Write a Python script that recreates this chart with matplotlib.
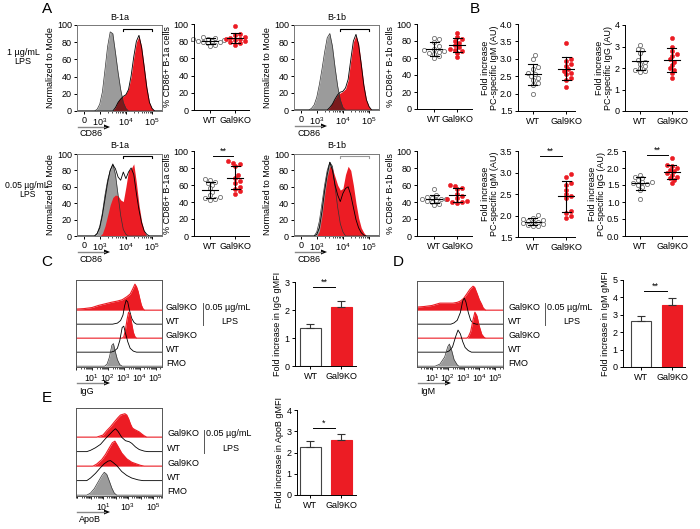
import numpy as np
import matplotlib.pyplot as plt

plt.rcParams['font.family'] = ['Liberation Sans', 'DejaVu Sans']
plt.rcParams['mathtext.fontset'] = 'custom'
plt.rcParams['mathtext.rm'] = 'Liberation Sans'
plt.rcParams['mathtext.it'] = 'Liberation Sans:italic'
plt.rcParams['font.size'] = 6.5
plt.rcParams['axes.linewidth'] = 0.7

RED = '#ec1c24'
DARK_RED = '#7a1a1c'
GREY = '#9b9b9b'

GROUPS = ['WT', 'Gal9KO']

# A: % CD86+ cells (one value per mouse)
B1A_1UG_WT = [85, 84, 83, 82, 81, 80, 80, 79, 79, 78, 76, 74]
B1A_1UG_KO = [98, 88, 87, 85, 84, 83, 82, 81, 80, 79, 78, 76]
B1B_1UG_WT = [84, 82, 79, 74, 71, 69, 68, 67, 66, 65, 62, 60]
B1B_1UG_KO = [90, 85, 82, 80, 78, 75, 73, 71, 70, 68, 66, 61]
B1A_005_WT = [67, 66, 64, 62, 60, 56, 52, 48, 46, 45, 44, 42]
B1A_005_KO = [88, 86, 85, 82, 72, 68, 65, 62, 58, 55, 53, 50]
B1B_005_WT = [55, 48, 46, 45, 44, 43, 43, 42, 41, 40, 38, 36]
B1B_005_KO = [60, 59, 57, 55, 50, 47, 45, 43, 41, 40, 40, 39]

# B: fold increase of PC-specific Ig
IGM_1UG_WT = [3.1, 3.0, 2.75, 2.7, 2.6, 2.55, 2.5, 2.45, 2.4, 2.3, 2.25, 2.0]
IGM_1UG_KO = [3.45, 3.0, 2.95, 2.85, 2.8, 2.7, 2.65, 2.6, 2.55, 2.45, 2.4, 2.2]
IGG_1UG_WT = [3.05, 2.9, 2.85, 2.7, 2.35, 2.3, 2.2, 2.1, 2.0, 1.9, 1.85, 1.8]
IGG_1UG_KO = [3.4, 3.0, 2.8, 2.65, 2.55, 2.4, 2.3, 2.15, 2.0, 1.9, 1.75, 1.55]
IGM_005_WT = [2.02, 1.95, 1.92, 1.9, 1.88, 1.86, 1.85, 1.82, 1.8, 1.78, 1.76, 1.75]
IGM_005_KO = [2.97, 2.9, 2.75, 2.7, 2.6, 2.5, 2.45, 2.4, 2.1, 2.05, 2.0, 1.95]
IGG_005_WT = [1.8, 1.75, 1.7, 1.65, 1.6, 1.58, 1.55, 1.52, 1.5, 1.45, 1.35, 1.1]
IGG_005_KO = [2.3, 2.1, 2.05, 2.0, 1.95, 1.9, 1.85, 1.8, 1.75, 1.7, 1.65, 1.55]

# C-E: fold increase in gMFI (mean, sem)
IGG_GMFI = [1.36, 2.1]
IGG_GMFI_ERR = [0.14, 0.22]
IGM_GMFI = [2.62, 3.55]
IGM_GMFI_ERR = [0.33, 0.4]
APOB_GMFI = [2.26, 2.59]
APOB_GMFI_ERR = [0.28, 0.28]

# CD86 histograms, (position on biexponential axis, % of mode); 0 -> 2.4, 10^3 -> 3, 10^4 -> 4
H_B1A_1UG_FMO = [(2.8, 0), (2.9, 2), (3.0, 8), (3.1, 22), (3.2, 48), (3.3, 75), (3.4, 92), (3.5, 90),
                 (3.6, 68), (3.7, 45), (3.8, 25), (3.9, 10), (4.0, 3), (4.1, 0)]
H_B1A_1UG_KO = [(3.5, 0), (3.6, 4), (3.7, 11), (3.8, 15), (3.9, 17), (4.0, 20), (4.1, 26), (4.2, 40),
                (4.3, 62), (4.4, 80), (4.5, 87), (4.6, 75), (4.7, 52), (4.8, 28), (4.9, 10), (5.0, 3), (5.1, 0)]
H_B1A_1UG_WT = [(3.5, 0), (3.6, 4), (3.7, 10), (3.8, 14), (3.9, 17), (4.0, 19), (4.1, 25), (4.2, 41),
                (4.3, 63), (4.4, 81), (4.5, 88), (4.6, 74), (4.7, 51), (4.8, 27), (4.9, 10), (5.0, 3), (5.1, 0)]
H_B1B_1UG_FMO = [(2.7, 0), (2.8, 2), (2.9, 6), (3.0, 15), (3.1, 30), (3.2, 48), (3.3, 68), (3.4, 85),
                 (3.5, 90), (3.6, 75), (3.7, 50), (3.8, 28), (3.9, 12), (4.0, 3), (4.1, 0)]
H_B1B_1UG_KO = [(3.4, 0), (3.5, 3), (3.6, 8), (3.7, 13), (3.8, 18), (3.9, 20), (4.0, 22), (4.1, 25),
                (4.2, 35), (4.3, 58), (4.4, 80), (4.5, 88), (4.6, 78), (4.7, 55), (4.8, 30), (4.9, 12),
                (5.0, 4), (5.1, 0)]
H_B1B_1UG_WT = [(3.4, 0), (3.5, 3), (3.6, 7), (3.7, 13), (3.8, 18), (3.9, 21), (4.0, 22), (4.1, 26),
                (4.2, 36), (4.3, 59), (4.4, 81), (4.5, 89), (4.6, 77), (4.7, 54), (4.8, 29), (4.9, 12),
                (5.0, 4), (5.1, 0)]
H_B1A_005_FMO = [(2.8, 0), (2.9, 3), (3.0, 12), (3.1, 28), (3.2, 50), (3.3, 68), (3.4, 80), (3.5, 88),
                 (3.6, 75), (3.7, 50), (3.8, 25), (3.9, 8), (4.0, 2), (4.1, 0)]
H_B1A_005_KO = [(3.0, 0), (3.1, 3), (3.2, 12), (3.3, 25), (3.4, 38), (3.5, 47), (3.6, 50), (3.7, 49),
                (3.8, 44), (3.9, 42), (4.0, 60), (4.1, 80), (4.2, 82), (4.3, 88), (4.4, 65), (4.5, 38),
                (4.6, 18), (4.7, 6), (4.8, 0)]
H_B1A_005_WT = [(2.8, 0), (2.9, 3), (3.0, 10), (3.1, 25), (3.2, 45), (3.3, 65), (3.4, 80), (3.5, 87),
                (3.6, 82), (3.7, 72), (3.8, 68), (3.9, 78), (4.0, 70), (4.1, 78), (4.2, 83), (4.3, 75),
                (4.4, 52), (4.5, 32), (4.6, 16), (4.7, 6), (4.8, 2), (4.9, 0)]
H_B1B_005_FMO = [(2.9, 0), (3.0, 5), (3.1, 18), (3.2, 40), (3.3, 62), (3.4, 80), (3.5, 90), (3.6, 85),
                 (3.7, 60), (3.8, 35), (3.9, 15), (4.0, 5), (4.1, 0)]
H_B1B_005_KO = [(3.0, 0), (3.1, 6), (3.2, 25), (3.3, 50), (3.4, 72), (3.5, 85), (3.6, 82), (3.7, 72),
                (3.8, 62), (3.9, 56), (4.0, 58), (4.1, 75), (4.2, 85), (4.3, 80), (4.4, 62), (4.5, 40),
                (4.6, 22), (4.7, 10), (4.8, 4), (4.9, 0)]
H_B1B_005_WT = [(2.9, 0), (3.0, 2), (3.1, 10), (3.2, 30), (3.3, 55), (3.4, 75), (3.5, 90), (3.6, 80),
                (3.7, 62), (3.8, 50), (3.9, 42), (4.0, 52), (4.1, 58), (4.2, 60), (4.3, 50), (4.4, 35),
                (4.5, 20), (4.6, 10), (4.7, 4), (4.8, 1), (4.9, 0)]

# layered histograms (log10 intensity, % of mode), listed top row first
IGG_ROWS = [
    ('ko', [(0.0, 4), (0.5, 6), (1.0, 10), (1.4, 18), (1.8, 24), (2.2, 30), (2.6, 35), (2.9, 40), (3.2, 52),
            (3.4, 62), (3.55, 80), (3.7, 100), (3.8, 90), (3.9, 72), (4.0, 45), (4.1, 20), (4.2, 6), (4.3, 0)]),
    ('wt', [(2.3, 0), (2.6, 4), (2.8, 14), (2.95, 35), (3.05, 70), (3.15, 92), (3.25, 85), (3.35, 55),
            (3.5, 22), (3.65, 6), (3.8, 0)]),
    ('ko', [(2.9, 0), (3.0, 5), (3.1, 30), (3.2, 70), (3.3, 100), (3.4, 90), (3.5, 55), (3.6, 22),
            (3.7, 6), (3.8, 0)]),
    ('wt', [(2.2, 0), (2.4, 4), (2.6, 15), (2.75, 45), (2.9, 95), (3.0, 100), (3.1, 75), (3.25, 40),
            (3.4, 15), (3.6, 4), (3.8, 0)]),
    ('fmo', [(1.8, 0), (1.95, 8), (2.1, 35), (2.25, 80), (2.35, 87), (2.45, 60), (2.6, 25), (2.75, 6),
             (2.9, 0)]),
]
IGM_ROWS = [
    ('ko', [(0.1, 12), (0.5, 14), (1.0, 18), (1.5, 27), (2.0, 27), (2.33, 27), (2.6, 30), (2.8, 35),
            (3.0, 45), (3.2, 62), (3.4, 80), (3.6, 92), (3.7, 88), (3.85, 65), (4.0, 40), (4.15, 22),
            (4.25, 8), (4.4, 0)]),
    ('wt', [(2.2, 0), (2.4, 5), (2.6, 15), (2.8, 45), (2.95, 90), (3.05, 100), (3.15, 85), (3.3, 45),
            (3.45, 15), (3.6, 4), (3.8, 0)]),
    ('ko', [(3.2, 0), (3.3, 5), (3.45, 25), (3.6, 70), (3.72, 100), (3.85, 85), (4.0, 45), (4.15, 15),
            (4.3, 3), (4.4, 0)]),
    ('wt', [(1.9, 0), (2.1, 5), (2.3, 20), (2.5, 60), (2.65, 85), (2.8, 70), (2.95, 40), (3.1, 18),
            (3.3, 6), (3.5, 0)]),
    ('fmo', [(1.2, 0), (1.5, 8), (1.8, 35), (2.0, 75), (2.1, 85), (2.25, 60), (2.4, 25), (2.6, 5),
             (2.7, 0)]),
]
APOB_ROWS = [
    ('ko', [(0.5, 0), (1.0, 8), (1.3, 25), (1.6, 40), (1.9, 58), (2.2, 75), (2.4, 85), (2.6, 88),
            (2.75, 90), (2.9, 85), (3.05, 70), (3.2, 50), (3.35, 35), (3.5, 30), (3.7, 25), (3.9, 20),
            (4.1, 12), (4.3, 5), (4.5, 0)]),
    ('wt', [(-0.3, 0), (0.0, 5), (0.4, 15), (0.8, 28), (1.2, 50), (1.5, 65), (1.8, 80), (2.0, 88),
            (2.2, 78), (2.5, 55), (2.8, 42), (3.1, 38), (3.3, 32), (3.6, 18), (3.9, 8), (4.3, 2), (4.6, 0)]),
    ('ko', [(0.2, 0), (0.5, 8), (0.9, 25), (1.2, 45), (1.5, 70), (1.75, 90), (1.95, 96), (2.15, 80),
            (2.5, 50), (2.9, 28), (3.3, 15), (3.7, 8), (4.0, 3), (4.3, 0)]),
    ('wt', [(-0.3, 0), (0.0, 10), (0.4, 28), (0.8, 50), (1.1, 65), (1.4, 75), (1.6, 77), (1.8, 70),
            (2.1, 58), (2.5, 35), (2.9, 20), (3.3, 10), (3.8, 3), (4.2, 0)]),
    ('fmo', [(-0.3, 0), (0.0, 8), (0.3, 25), (0.6, 50), (0.9, 75), (1.1, 88), (1.3, 80), (1.5, 55),
             (1.7, 28), (1.9, 8), (2.1, 0)]),
]
ROW_NAMES = ['Gal9KO', 'WT', 'Gal9KO', 'WT', 'FMO']

W, H = 700, 529
fig = plt.figure(figsize=(W / 100, H / 100), dpi=100)


def box(l, t, r, b):
    return fig.add_axes([l / W, 1 - b / H, (r - l) / W, (b - t) / H])


def ftext(x, y, s, **kw):
    kw.setdefault('va', 'center')
    fig.text(x / W, 1 - y / H, s, **kw)


def fline(x0, y0, x1, y1, **kw):
    fig.add_artist(plt.Line2D([x0 / W, x1 / W], [1 - y0 / H, 1 - y1 / H], **kw))


def axis_arrow(x0, x1, y, label, ly):
    fig.add_artist(plt.Line2D([x0 / W, (x1 - 5) / W], [1 - y / H] * 2, color='#888', lw=1.0))
    fig.add_artist(plt.Polygon([[(x1 - 6) / W, 1 - (y - 2.5) / H], [(x1 - 6) / W, 1 - (y + 2.5) / H],
                                [x1 / W, 1 - y / H]], closed=True, color='black', lw=0))
    ftext(x0 + 2, ly, label, ha='left')


def curve(pts, lo, hi):
    x = np.array([lo] + [p[0] for p in pts] + [hi], float)
    y = np.array([0] + [p[1] for p in pts] + [0], float)
    return x, y


def swarm(vals, pxx, pxy, d=4.0):
    offs = np.zeros(len(vals))
    placed = []
    for i in np.argsort(vals):
        y = vals[i] * pxy
        cand = 0.0
        for k in range(30):
            cand = ((k + 1) // 2) * (1 if k % 2 else -1) * d * 0.6
            if all((cand - ox) ** 2 + (y - oy) ** 2 >= d * d for ox, oy in placed):
                break
        placed.append((cand, y))
        offs[i] = cand / pxx
    return offs


def plain_axes(ax):
    for s in ['top', 'right']:
        ax.spines[s].set_visible(False)
    ax.tick_params(length=2.5, width=0.7, pad=1.5, labelsize=6.5)


def sig_bar(ax, x0, x1, y, txt):
    ax.plot([x0, x1], [y, y], color='black', lw=0.7, clip_on=False)
    ax.text((x0 + x1) / 2, y, txt, ha='center', va='bottom', fontsize=6.5)


def cd86_hist(l, t, r, b, title, fmo, ko, wt, gate_y, gate_col, overlap):
    ax = box(l, t, r, b)
    lo, hi = 2.13, 5.38
    ax.set_xlim(lo, hi)
    ax.set_ylim(0, 100)
    gx, gy = curve(fmo, lo, hi)
    kx, ky = curve(ko, lo, hi)
    wx, wy = curve(wt, lo, hi)
    ax.fill_between(gx, 0, gy, color=GREY, lw=0)
    ax.plot(gx, gy, color='#333', lw=0.5)
    ax.fill_between(kx, 0, ky, color=RED, lw=0)
    if overlap:
        xx = np.linspace(lo, hi, 800)
        both = np.minimum(np.interp(xx, gx, gy), np.interp(xx, kx, ky))
        ax.fill_between(xx, 0, both, color=DARK_RED, lw=0)
    ax.plot(wx, wy, color='black', lw=0.6)
    ax.plot([3.9, 3.9, 5.0, 5.0], [gate_y - 2, gate_y, gate_y, gate_y - 2], color=gate_col, lw=0.8)
    for s in ax.spines.values():
        s.set_color('#777')
    ax.set_xticks([2.4, 3, 4, 5])
    ax.set_xticklabels(['0', '$10^3$', '$10^4$', '$10^5$'])
    minor = [np.log10(k) + d for d in (3, 4) for k in range(2, 10)]
    ax.set_xticks(minor, minor=True)
    ax.set_yticks(range(0, 101, 20))
    ax.tick_params(length=2.5, width=0.7, pad=1.2, labelsize=6.5)
    ax.tick_params(which='minor', length=1.5, width=0.5)
    ax.set_ylabel('Normalized to Mode', labelpad=1)
    ftext((l + r) / 2, t - 8, title, ha='center')
    axis_arrow(l + 1, l + 33, b + 16, 'CD86', b + 23)
    return ax


def dot_plot(l, t, r, b, wt, ko, ylim, yticks, ylabel, xlim, fmt='{:g}', sig=None):
    ax = box(l, t, r, b)
    ax.set_xlim(*xlim)
    ax.set_ylim(*ylim)
    pxx = (r - l) / (xlim[1] - xlim[0])
    pxy = (b - t) / (ylim[1] - ylim[0])
    for i, vals in enumerate([wt, ko]):
        vals = np.asarray(vals, float)
        off = swarm(vals, pxx, pxy)
        if i == 0:
            ax.plot(i + off, vals, 'o', ms=3, mfc='white', mec='#707070', mew=0.6, clip_on=False)
        else:
            ax.plot(i + off, vals, 'o', ms=3, mfc=RED, mec=RED, mew=0.4, clip_on=False)
        m, s = vals.mean(), vals.std(ddof=1)
        hw, cw = 8 / pxx, 4.5 / pxx
        kw = dict(color='black', lw=0.8, zorder=4)
        ax.plot([i - hw, i + hw], [m, m], **kw)
        ax.plot([i, i], [m - s, m + s], **kw)
        ax.plot([i - cw, i + cw], [m + s, m + s], **kw)
        ax.plot([i - cw, i + cw], [m - s, m - s], **kw)
    plain_axes(ax)
    ax.set_xticks([0, 1])
    ax.set_xticklabels(GROUPS)
    ax.set_yticks(yticks)
    ax.set_yticklabels([fmt.format(v) for v in yticks])
    ax.set_ylabel(ylabel, labelpad=1, linespacing=1.0)
    if sig:
        sig_bar(ax, *sig)
    return ax


def layered_hist(l, t, r, b, lo, hi, rows, step, labeled, name, lx):
    ax = box(l, t, r, b)
    ax.set_xlim(lo, hi)
    ax.set_ylim(0, (b - t) / step)
    scale = 26 / step / 100
    n = len(rows)
    for i, (kind, pts) in enumerate(rows):
        base = (n - 1 - i) + 0.06
        x, y = curve(pts, lo, hi)
        top = base + y * scale
        if kind == 'ko':
            ax.fill_between(x, base, top, color=RED, lw=0)
            ax.plot(x, top, color=RED, lw=0.8)
        elif kind == 'wt':
            ax.plot(x, top, color='black', lw=0.6)
        else:
            ax.fill_between(x, base, top, color=GREY, lw=0)
            ax.plot(x, top, color='#333', lw=0.5)
        ftext(lx, b - (n - 1 - i) * step - 4, ROW_NAMES[i], ha='left')
    for s in ax.spines.values():
        s.set_color('#555')
    ax.set_yticks([])
    majors = [d for d in range(0, 6) if lo <= d <= hi]
    ax.set_xticks(majors)
    ax.set_xticklabels(['$10^{%d}$' % d if d in labeled else '' for d in majors])
    minor = [np.log10(k) + d for d in range(-2, 6) for k in range(2, 10)
             if lo < np.log10(k) + d < hi]
    ax.set_xticks(minor, minor=True)
    ax.tick_params(length=2.5, width=0.6, pad=1.2, labelsize=6.3)
    ax.tick_params(which='minor', length=1.5, width=0.5)
    # stimulation bracket
    y0 = b - 4 * step - 4
    fline(lx + 37, y0 - 4, lx + 37, y0 + step + 4, color='#555', lw=0.7)
    ftext(lx + 39, y0, '0.05 µg/mL', ha='left')
    ftext(lx + 64, y0 + step, 'LPS', ha='center')
    axis_arrow(l + 1, l + 34, b + 16, name, b + 24)
    return ax


def gmfi_bars(l, t, r, b, vals, errs, ymax, ylabel, xlim, sig):
    ax = box(l, t, r, b)
    ax.set_xlim(*xlim)
    ax.set_ylim(0, ymax)
    x = np.arange(2)
    ax.bar(x, vals, width=0.67, color=['white', RED], edgecolor=['#444', RED], lw=0.8)
    ax.errorbar(x, vals, yerr=[[0, 0], errs], fmt='none', ecolor='#333', elinewidth=0.8,
                capsize=3, capthick=0.8)
    plain_axes(ax)
    ax.set_xticks(x)
    ax.set_xticklabels(GROUPS)
    ax.set_yticks(range(0, ymax + 1))
    ax.set_ylabel(ylabel, labelpad=2)
    sig_bar(ax, *sig)
    return ax


# ---- panel A / B, 1 ug/mL row ----
cd86_hist(77, 25, 162, 111, 'B-1a', H_B1A_1UG_FMO, H_B1A_1UG_KO, H_B1A_1UG_WT, 95, 'black', True)
cd86_hist(294, 25, 379, 110, 'B-1b', H_B1B_1UG_FMO, H_B1B_1UG_KO, H_B1B_1UG_WT, 95, 'black', True)
dot_plot(194, 24, 249, 110, B1A_1UG_WT, B1A_1UG_KO, (0, 100), range(0, 101, 20),
         '% CD86+ B-1a cells', (-0.64, 1.55))
dot_plot(417, 24, 472, 109, B1B_1UG_WT, B1B_1UG_KO, (0, 100), range(0, 101, 20),
         '% CD86+ B-1b cells', (-0.74, 1.65))
dot_plot(518, 24, 575, 111, IGM_1UG_WT, IGM_1UG_KO, (1.5, 4.0), np.arange(1.5, 4.01, 0.5),
         'Fold increase\nPC-specific IgM (AU)', (-0.45, 1.27), fmt='{:.1f}')
dot_plot(625, 25, 687, 111, IGG_1UG_WT, IGG_1UG_KO, (0, 4), range(0, 5),
         'Fold increase\nPC-specific IgG (AU)', (-0.47, 1.47))

# ---- 0.05 ug/mL row ----
cd86_hist(77, 154, 162, 236, 'B-1a', H_B1A_005_FMO, H_B1A_005_KO, H_B1A_005_WT, 97, 'black', False)
cd86_hist(294, 154, 379, 236, 'B-1b', H_B1B_005_FMO, H_B1B_005_KO, H_B1B_005_WT, 97, '#999', False)
dot_plot(194, 151, 249, 236, B1A_005_WT, B1A_005_KO, (0, 100), range(0, 101, 20),
         '% CD86+ B-1a cells', (-0.64, 1.55), sig=(0.12, 0.92, 94, '**'))
dot_plot(417, 151, 472, 236, B1B_005_WT, B1B_005_KO, (0, 100), range(0, 101, 20),
         '% CD86+ B-1b cells', (-0.74, 1.65))
dot_plot(518, 151, 575, 237, IGM_005_WT, IGM_005_KO, (1.5, 3.5), np.arange(1.5, 3.51, 0.5),
         'Fold increase\nPC-specific IgM (AU)', (-0.45, 1.27), fmt='{:.1f}',
         sig=(0.2, 0.88, 3.38, '**'))
dot_plot(625, 151, 687, 236, IGG_005_WT, IGG_005_KO, (0, 2.5), np.arange(0, 2.51, 0.5),
         'Fold increase\nPC-specific IgG (AU)', (-0.47, 1.47), fmt='{:.1f}',
         sig=(0.22, 0.88, 2.38, '**'))

# ---- C, D, E ----
layered_hist(76, 280, 162, 367, 0.0, 5.4, IGG_ROWS, 14, [1, 2, 3, 4, 5], 'IgG', 166)
gmfi_bars(295, 282, 356, 366, IGG_GMFI, IGG_GMFI_ERR, 3, 'Fold increase in IgG gMFI',
          (-0.5, 1.47), (0.08, 0.8, 2.82, '**'))
layered_hist(417, 281, 503, 367, 0.05, 5.5, IGM_ROWS, 14, [1, 2, 3, 4, 5], 'IgM', 508)
gmfi_bars(623, 280, 685, 367, IGM_GMFI, IGM_GMFI_ERR, 5, 'Fold increase in IgM gMFI',
          (-0.58, 1.42), (0.1, 0.84, 4.37, '**'))
layered_hist(76, 408, 162, 496, -1.16, 5.72, APOB_ROWS, 14.5, [1, 3, 5], 'ApoB', 167)
gmfi_bars(297, 410, 356, 495, APOB_GMFI, APOB_GMFI_ERR, 4, 'Fold increase in ApoB gMFI',
          (-0.43, 1.47), (0.08, 0.8, 3.15, '*'))

# ---- panel letters and row labels ----
for letter, x, y in [('A', 47, 9), ('B', 475, 9), ('C', 47, 262), ('D', 398, 262), ('E', 47, 398)]:
    ftext(x, y, letter, ha='center', fontsize=11)
ftext(23, 57, '1 µg/mL\nLPS', ha='center', linespacing=1.1)
ftext(27, 190, '0.05 µg/mL\nLPS', ha='center', linespacing=1.1, fontsize=6.2)

fig.savefig('out.png', dpi=100)
